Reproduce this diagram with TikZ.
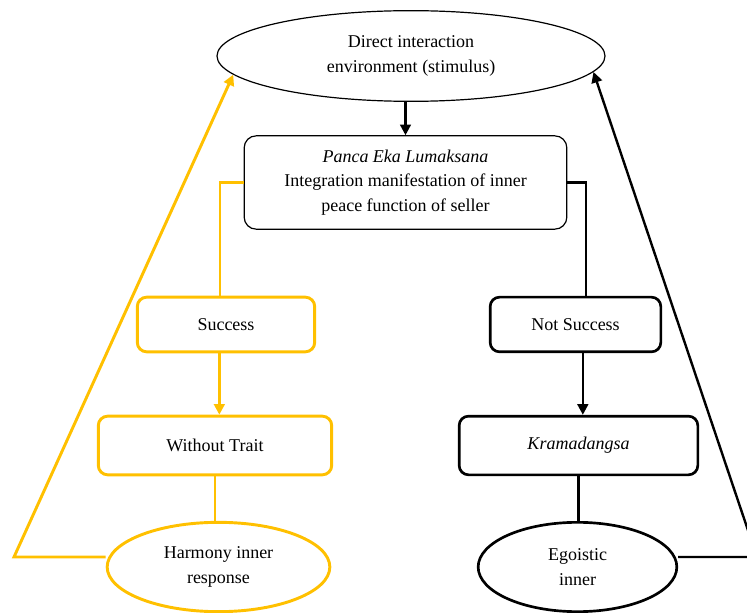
\documentclass[tikz,border=0pt]{standalone}
\usepackage{fontspec}
\setmainfont{Liberation Serif}
\usepackage{tikz}
\usetikzlibrary{arrows.meta,shapes,positioning,calc}
\definecolor{gold}{HTML}{FFC000}

\begin{document}
\begin{tikzpicture}[x=0.75pt,y=-0.75pt,
	every node/.style={align=center,font=\fontsize{13.5}{18.5}\selectfont,inner sep=0pt},
	thinoval/.style={ellipse,draw,line width=0.9pt},
	thinbox/.style={rectangle,rounded corners=9pt,draw,line width=0.9pt},
	goldbox/.style={rectangle,rounded corners=7pt,draw=gold,line width=2.2pt},
	blackbox/.style={rectangle,rounded corners=7pt,draw,line width=2pt},
	goldoval/.style={ellipse,draw=gold,line width=2.2pt},
	blackoval/.style={ellipse,draw,line width=2pt},
	goldline/.style={draw=gold,line width=2.2pt},
	blackline/.style={draw,line width=1.8pt},
	tip/.style={-{Triangle[length=8pt,width=8pt]}}]
		\useasboundingbox (0,0) rectangle (747,613);
		\clip (0,0) rectangle (747,613);

		\node[thinoval, minimum width=291pt, minimum height=68pt] (stim) at (411, 56) {Direct interaction\\environment (stimulus)};
		\node[thinbox, minimum width=242pt, minimum height=70pt] (panca) at (405.5, 182.5) {\textit{Panca Eka Lumaksana}\\Integration manifestation of inner\\peace function of seller};

		\node[goldbox, minimum width=133pt, minimum height=41pt] (success) at (226, 324.5) {Success};
		\node[goldbox, minimum width=175pt, minimum height=44pt] (trait) at (215, 445.5) {Without Trait};
		\node[goldoval, minimum width=167pt, minimum height=67pt] (harmony) at (218.5, 567) {Harmony inner\\response};

		\node[blackbox, minimum width=128pt, minimum height=41pt] (notsuccess) at (575.5, 324.5) {Not Success};
		\node[blackbox, minimum width=179pt, minimum height=44pt] (krama) at (578.5, 445.5) {\textit{Kramadangsa}};
		\node[blackoval, minimum width=149pt, minimum height=67pt] (ego) at (577.5, 567) {Egoistic\\inner};

		\coordinate (lcorner) at (14, 557);
		\coordinate (rcorner) at (757, 557);

		\draw[blackline, tip] (stim.south -| panca.north) -- (panca.north);

		\draw[goldline] (panca.west) -| ([xshift=-4.5pt]success.north);
		\draw[goldline, tip] ([xshift=-5pt]success.south) -- ([xshift=-5pt]success.south |- trait.north);
		\draw[goldline] (trait.south) -- (trait.south |- harmony.north);
		\draw[goldline, tip] (harmony.west |- lcorner) -- (lcorner) -- (stim.186);

		\draw[blackline] (panca.east) -| ([xshift=8pt]notsuccess.north);
		\draw[blackline, tip] ([xshift=5.5pt]notsuccess.south) -- ([xshift=5.5pt]notsuccess.south |- krama.north);
		\draw[blackline] (krama.south) -- (krama.south |- ego.north);
		\draw[blackline, tip] (ego.east |- rcorner) -- (rcorner) -- (stim.355);
	\end{tikzpicture}
\end{document}
